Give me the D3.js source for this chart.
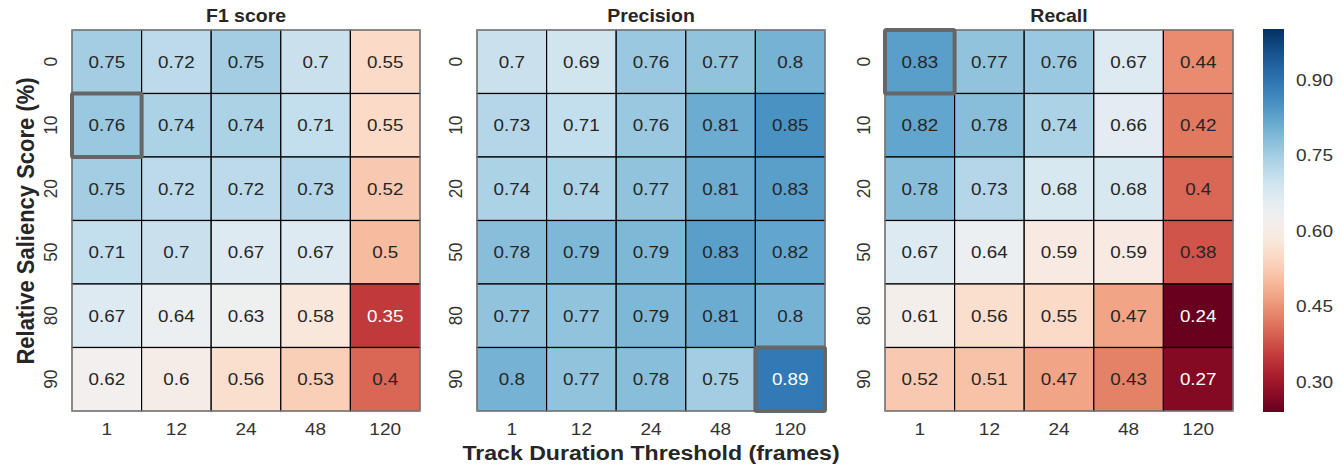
<!DOCTYPE html>
<html><head><meta charset="utf-8">
<script src="https://cdn.jsdelivr.net/npm/d3@7"></script>
<style>body{margin:0;background:#fff;} text{font-family:"Liberation Sans",Arial,sans-serif;}</style>
</head><body><svg id="c" width="1342" height="464"></svg>
<script>
const xCats = ["1","12","24","48","120"];
const yCats = ["0","10","20","50","80","90"];
const titles = ["F1 score","Precision","Recall"];
const f1 = [
 [0.75,0.72,0.75,0.7,0.55],
 [0.76,0.74,0.74,0.71,0.55],
 [0.75,0.72,0.72,0.73,0.52],
 [0.71,0.7,0.67,0.67,0.5],
 [0.67,0.64,0.63,0.58,0.35],
 [0.62,0.6,0.56,0.53,0.4]];
const precision = [
 [0.7,0.69,0.76,0.77,0.8],
 [0.73,0.71,0.76,0.81,0.85],
 [0.74,0.74,0.77,0.81,0.83],
 [0.78,0.79,0.79,0.83,0.82],
 [0.77,0.77,0.79,0.81,0.8],
 [0.8,0.77,0.78,0.75,0.89]];
const recall = [
 [0.83,0.77,0.76,0.67,0.44],
 [0.82,0.78,0.74,0.66,0.42],
 [0.78,0.73,0.68,0.68,0.4],
 [0.67,0.64,0.59,0.59,0.38],
 [0.61,0.56,0.55,0.47,0.24],
 [0.52,0.51,0.47,0.43,0.27]];
const highlights = [["10","1"],["90","120"],["0","1"]];
const cbTicks = [0.30,0.45,0.60,0.75,0.90];
const vmin = 0.24, vmax = 1.0;

const SX = 1.1;
const svg = d3.select("#c");
const color = d3.scaleSequential(t => d3.interpolateRdBu(t)).domain([vmin, vmax]);
const panelsX = [72, 477, 885];
const pw = 348, pTop = 30, ph = 381;
const datasets = [f1, precision, recall];

const isDark = v => v < 0.36 || v > 0.87;
const tr = (x,y,rot) => `translate(${x},${y}) scale(${SX},1)` + (rot ? ` rotate(${rot})` : "");

datasets.forEach((data, p) => {
  const x = d3.scaleBand().domain(xCats).range([panelsX[p], panelsX[p]+pw]);
  const y = d3.scaleBand().domain(yCats).range([pTop, pTop+ph]);
  const g = svg.append("g");
  const cells = [];
  data.forEach((row,i) => row.forEach((v,j) => cells.push({r:yCats[i], c:xCats[j], v})));
  g.selectAll("rect.cell").data(cells).join("rect")
    .attr("x", d=>x(d.c)).attr("y", d=>y(d.r))
    .attr("width", x.bandwidth()).attr("height", y.bandwidth())
    .attr("fill", d=>color(d.v)).attr("stroke","#000").attr("stroke-width",1.2);
  g.append("rect").attr("x",panelsX[p]).attr("y",pTop).attr("width",pw).attr("height",ph)
    .attr("fill","none").attr("stroke","#b0b0b0").attr("stroke-width",1);
  g.selectAll("text.val").data(cells).join("text")
    .attr("transform", d=>tr(x(d.c)+x.bandwidth()/2, y(d.r)+y.bandwidth()/2))
    .attr("dy","0.36em").attr("text-anchor","middle").attr("font-size",17.1)
    .attr("fill", d=> isDark(d.v) ? "#fff" : "#262626")
    .text(d=>String(d.v));
  const h = highlights[p];
  g.append("rect").attr("x", x(h[1])).attr("y", y(h[0]))
    .attr("width", x.bandwidth()).attr("height", y.bandwidth())
    .attr("fill","none").attr("stroke","#666").attr("stroke-width",4).attr("rx",1.5);
  g.selectAll("text.xt").data(xCats).join("text")
    .attr("transform", d=>tr(x(d)+x.bandwidth()/2, pTop+ph+18))
    .attr("dy","0.36em").attr("text-anchor","middle").attr("font-size",17.3).attr("fill","#333")
    .text(d=>d);
  g.selectAll("text.yt").data(yCats).join("text")
    .attr("transform", d=>tr(panelsX[p]-22, y(d)+y.bandwidth()/2, -90))
    .attr("dy","0.36em").attr("text-anchor","middle").attr("font-size",17.3).attr("fill","#333")
    .text(d=>d);
  g.append("text").attr("transform", tr(panelsX[p]+pw/2, 22)).attr("text-anchor","middle")
    .attr("font-size",17.7).attr("font-weight","bold").attr("fill","#262626").text(titles[p]);
});

svg.append("text").attr("transform", tr(651, 460)).attr("text-anchor","middle")
  .attr("font-size",21).attr("font-weight","bold").attr("fill","#262626")
  .text("Track Duration Threshold (frames)");
svg.append("text").attr("transform", tr(25, 221, -90)).attr("dy","0.36em")
  .attr("text-anchor","middle").attr("font-size",22).attr("font-weight","bold").attr("fill","#262626")
  .text("Relative Saliency Score (%)");

const cbX = 1263, cbW = 21, cbTop = 29, cbBot = 412;
const defs = svg.append("defs");
const grad = defs.append("linearGradient").attr("id","cbg").attr("x1",0).attr("y1",1).attr("x2",0).attr("y2",0);
d3.range(0,1.0001,0.05).forEach(t => grad.append("stop").attr("offset",t).attr("stop-color", d3.interpolateRdBu(t)));
svg.append("rect").attr("x",cbX).attr("y",cbTop).attr("width",cbW).attr("height",cbBot-cbTop).attr("fill","url(#cbg)");
const cy = d3.scaleLinear().domain([vmin,vmax]).range([cbBot,cbTop]);
svg.selectAll("text.cbt").data(cbTicks).join("text")
  .attr("transform", d=>tr(cbX+cbW+12, cy(d))).attr("dy","0.36em").attr("font-size",17.3).attr("fill","#333")
  .text(d=>d3.format(".2f")(d));
</script></body></html>
